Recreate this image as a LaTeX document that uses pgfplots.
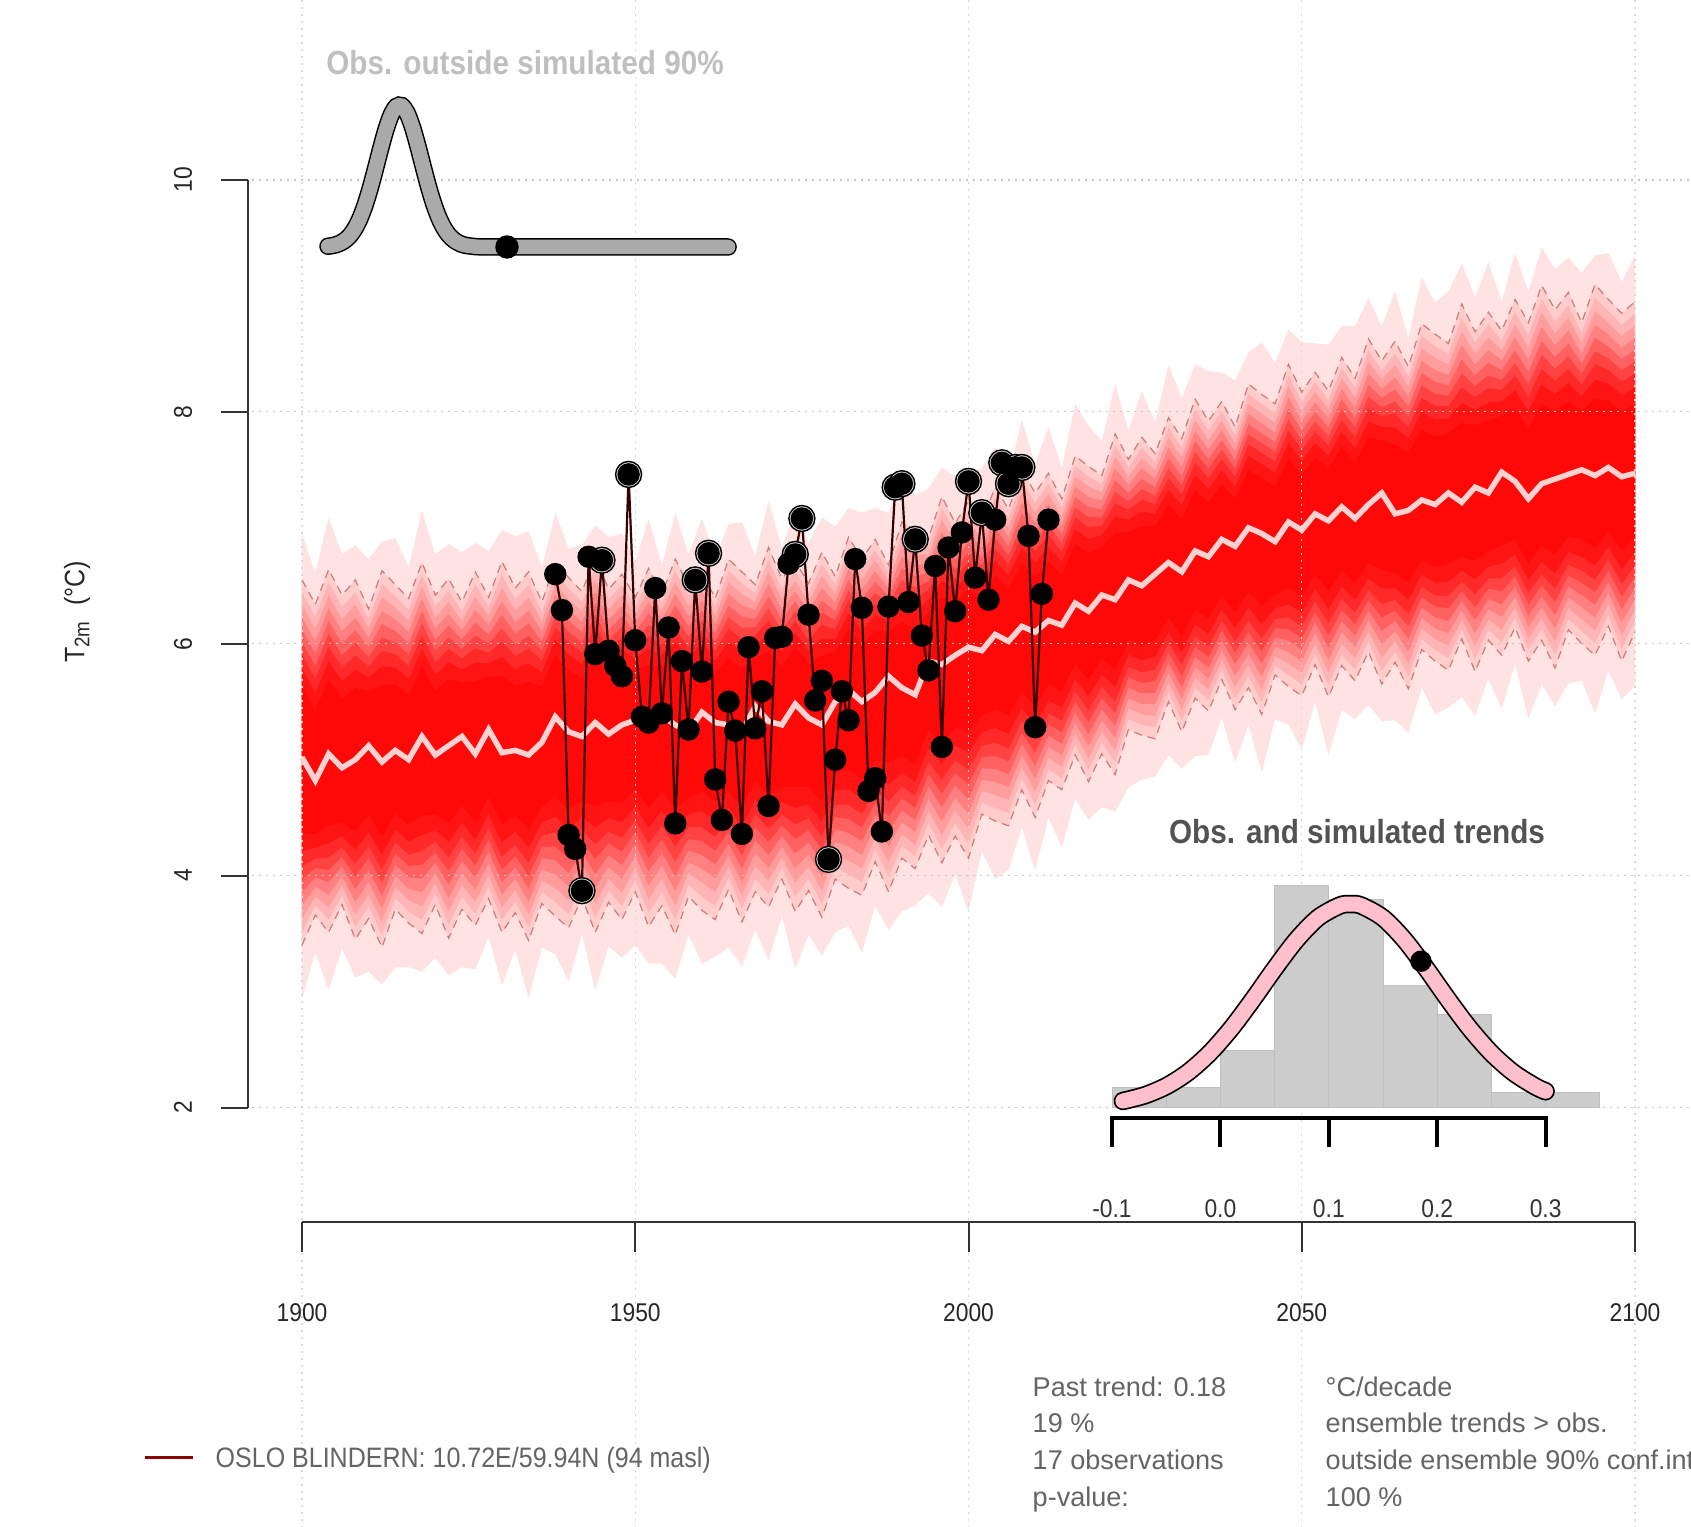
\documentclass[border=0pt]{standalone}
\usepackage{fontspec}
\setmainfont{Liberation Sans}
\newfontfamily\rfont{Liberation Sans}[FakeStretch=0.89]
\usepackage{pgfplots}
\pgfplotsset{compat=1.18}
\usepackage{pgfplotstable}
\usepgfplotslibrary{fillbetween}

\definecolor{medc}{RGB}{255,210,210}
\definecolor{obsc}{RGB}{55,0,0}
\definecolor{dashc}{RGB}{160,30,30}
\definecolor{pinkc}{RGB}{255,192,203}
\definecolor{txtc}{RGB}{100,100,100}
\definecolor{legc}{RGB}{139,0,0}

\pgfplotstableread{
year med q05 q95 mn mx
1900 5.02 3.40 6.55 2.94 6.95
1902 4.82 3.66 6.34 3.34 6.61
1904 5.05 3.51 6.64 3.01 7.09
1906 4.93 3.75 6.42 3.37 6.77
1908 5.00 3.45 6.55 3.12 6.85
1910 5.12 3.63 6.30 3.17 6.73
1912 4.98 3.38 6.63 3.06 6.88
1914 5.08 3.71 6.51 3.21 6.91
1916 5.00 3.59 6.39 3.21 6.66
1918 5.20 3.50 6.70 3.17 7.15
1920 5.04 3.75 6.42 3.29 6.77
1922 5.12 3.46 6.56 3.14 6.86
1924 5.20 3.71 6.36 3.21 6.79
1926 5.05 3.57 6.62 3.19 6.87
1928 5.26 3.80 6.40 3.47 6.80
1930 5.06 3.51 6.71 3.05 6.98
1932 5.08 3.68 6.48 3.36 6.93
1934 5.04 3.44 6.62 2.94 6.97
1936 5.15 3.76 6.36 3.38 6.66
1938 5.37 3.65 6.70 3.32 7.13
1940 5.24 3.55 6.57 3.09 6.82
1942 5.20 3.81 6.45 3.49 6.85
1944 5.32 3.51 6.75 3.01 7.02
1946 5.22 3.77 6.47 3.39 6.92
1948 5.30 3.62 6.60 3.29 6.95
1950 5.34 3.86 6.40 3.40 6.70
1952 5.26 3.56 6.65 3.24 7.08
1954 5.38 3.74 6.43 3.24 6.68
1956 5.30 3.49 6.73 3.11 7.13
1958 5.24 3.82 6.50 3.49 6.77
1960 5.41 3.70 6.63 3.24 7.08
1962 5.32 3.62 6.39 3.30 6.74
1964 5.30 3.88 6.73 3.38 7.03
1966 5.24 3.60 6.62 3.22 7.05
1968 5.46 3.86 6.51 3.53 6.76
1970 5.33 3.73 6.83 3.27 7.23
1972 5.30 3.97 6.56 3.65 6.83
1974 5.48 3.69 6.71 3.19 7.16
1976 5.36 3.87 6.52 3.49 6.87
1978 5.30 3.64 6.79 3.31 7.09
1980 5.50 3.97 6.58 3.51 7.01
1982 5.60 3.89 6.92 3.57 7.17
1984 5.50 3.83 6.73 3.33 7.13
1986 5.58 4.12 6.90 3.74 7.17
1988 5.72 3.86 6.68 3.53 7.13
1990 5.62 4.15 7.05 3.69 7.40
1992 5.56 4.06 6.98 3.74 7.28
1994 5.85 4.35 6.91 3.85 7.34
1996 5.82 4.11 7.27 3.73 7.52
1998 5.90 4.34 7.04 4.01 7.44
2000 5.97 4.15 7.23 3.69 7.50
2002 5.94 4.53 7.06 4.21 7.51
2004 6.08 4.47 7.35 3.97 7.70
2006 6.02 4.43 7.16 4.05 7.46
2008 6.15 4.74 7.50 4.41 7.93
2010 6.10 4.50 7.30 4.04 7.55
2012 6.20 4.82 7.47 4.50 7.87
2014 6.16 4.74 7.25 4.24 7.52
2016 6.35 5.04 7.62 4.66 8.07
2018 6.28 4.81 7.53 4.48 7.88
2020 6.42 5.05 7.45 4.59 7.75
2022 6.38 4.87 7.81 4.55 8.24
2024 6.55 5.26 7.59 4.76 7.84
2026 6.50 5.21 7.78 4.83 8.18
2028 6.60 5.18 7.64 4.85 7.91
2030 6.70 5.50 7.95 5.04 8.40
2032 6.62 5.24 7.77 4.92 8.12
2034 6.80 5.53 8.11 5.03 8.41
2036 6.75 5.42 7.92 5.04 8.35
2038 6.90 5.69 8.09 5.36 8.34
2040 6.84 5.43 7.87 4.97 8.27
2042 7.00 5.62 8.24 5.30 8.51
2044 6.95 5.39 8.15 4.89 8.60
2046 6.88 5.73 8.07 5.35 8.42
2048 7.05 5.63 8.41 5.30 8.71
2050 6.98 5.55 8.17 5.09 8.60
2052 7.12 5.82 8.34 5.50 8.59
2054 7.06 5.54 8.18 5.04 8.58
2056 7.18 5.81 8.47 5.43 8.74
2058 7.08 5.68 8.29 5.35 8.74
2060 7.20 5.93 8.63 5.47 8.98
2062 7.30 5.65 8.44 5.33 8.74
2064 7.12 5.84 8.61 5.34 9.04
2066 7.15 5.61 8.39 5.23 8.64
2068 7.24 5.95 8.76 5.62 9.16
2070 7.20 5.85 8.67 5.39 8.94
2072 7.30 5.77 8.59 5.45 9.04
2074 7.22 6.04 8.93 5.54 9.28
2076 7.35 5.76 8.69 5.38 8.99
2078 7.30 6.03 8.86 5.70 9.29
2080 7.48 5.90 8.70 5.44 8.95
2082 7.40 6.14 8.97 5.82 9.37
2084 7.25 5.85 8.77 5.35 9.04
2086 7.38 6.03 9.09 5.65 9.42
2088 7.42 5.79 8.88 5.46 9.23
2090 7.46 6.12 9.03 5.66 9.33
2092 7.50 6.00 8.77 5.68 9.20
2094 7.45 5.90 9.10 5.40 9.35
2096 7.52 6.15 8.97 5.77 9.37
2098 7.44 5.85 8.85 5.52 9.12
2100 7.47 6.10 8.95 5.64 9.35
}\fan

\pgfplotstableread{
year t
1938 6.60
1939 6.29
1940 4.35
1941 4.23
1942 3.87
1943 6.75
1944 5.91
1945 6.72
1946 5.94
1947 5.81
1948 5.72
1949 7.46
1950 6.03
1951 5.37
1952 5.32
1953 6.48
1954 5.40
1955 6.14
1956 4.45
1957 5.85
1958 5.26
1959 6.55
1960 5.76
1961 6.78
1962 4.83
1963 4.48
1964 5.50
1965 5.25
1966 4.36
1967 5.97
1968 5.27
1969 5.59
1970 4.60
1971 6.05
1972 6.06
1973 6.69
1974 6.77
1975 7.08
1976 6.25
1977 5.51
1978 5.68
1979 4.14
1980 5.00
1981 5.59
1982 5.34
1983 6.73
1984 6.31
1985 4.73
1986 4.84
1987 4.38
1988 6.32
1989 7.35
1990 7.38
1991 6.36
1992 6.90
1993 6.07
1994 5.77
1995 6.67
1996 5.11
1997 6.83
1998 6.28
1999 6.96
2000 7.40
2001 6.57
2002 7.13
2003 6.38
2004 7.07
2005 7.56
2006 7.38
2007 7.52
2008 7.52
2009 6.93
2010 5.28
2011 6.43
2012 7.07
}\obs

\pgfplotstableread{
year t
1942 3.87
1945 6.72
1949 7.46
1959 6.55
1961 6.78
1974 6.77
1975 7.08
1979 4.14
1989 7.35
1990 7.38
1992 6.90
2000 7.40
2002 7.13
2005 7.56
2006 7.38
2007 7.52
2008 7.52
}\obsout

\pgfplotstableread{
n dens
0 0.0010
0.5 0.0021
1 0.0042
1.5 0.0079
2 0.0139
2.5 0.0234
3 0.0370
3.5 0.0553
4 0.0781
4.5 0.1043
5 0.1316
5.5 0.1569
6 0.1767
6.5 0.1881
7 0.1891
7.5 0.1797
8 0.1614
8.5 0.1369
9 0.1098
9.5 0.0831
10 0.0595
10.5 0.0402
11 0.0257
11.5 0.0155
12 0.0089
12.5 0.0048
13 0.0024
14 0.0005
15 0.0001
16 0
18 0
22 0
26 0
30 0
34 0
38 0
}\outdens

\pgfplotstableread{
tr dens
-0.09 0.159
-0.07 0.297
-0.05 0.522
-0.03 0.860
-0.01 1.332
0.01 1.938
0.03 2.649
0.05 3.401
0.07 4.103
0.09 4.648
0.11 4.948
0.12 4.987
0.13 4.948
0.15 4.648
0.17 4.103
0.19 3.401
0.21 2.649
0.23 1.938
0.25 1.332
0.27 0.860
0.29 0.522
0.30 0.397
}\trdens

\newcommand{\band}[3]{%
\addplot[name path=U#1,draw=none,forget plot] table[x=year,y expr=\thisrow{med}+#2*(\thisrow{q95}-\thisrow{med})]{\fan};
\addplot[name path=L#1,draw=none,forget plot] table[x=year,y expr=\thisrow{med}-#2*(\thisrow{med}-\thisrow{q05})]{\fan};
\addplot[fill=red!#3,draw=none,forget plot] fill between[of=U#1 and L#1];}

\begin{document}
\begin{tikzpicture}
% grid
\begin{scope}[x=0.1mm,y=-0.1mm,yshift=152.7mm]
\foreach \X in {302,635.25,968.5,1301.75,1635}{\draw[gray!30,line width=0.12mm,dash pattern=on 0.2mm off 0.5mm] (\X,0)--(\X,1527);}
\foreach \Y in {1107.5,875.6,643.7,411.8,180}{\draw[gray!45,line width=0.12mm,dash pattern=on 0.2mm off 0.5mm] (252,\Y)--(1691,\Y);}
\end{scope}

% main axis
\begin{axis}[at={(0,0)},anchor=south west,scale only axis,width=169.1mm,height=152.7mm,
  xmin=1854.69,xmax=2108.40,ymin=-1.618,ymax=11.552,hide axis,clip=false]
\addplot[name path=mx,draw=none,forget plot] table[x=year,y=mx]{\fan};
\addplot[name path=mn,draw=none,forget plot] table[x=year,y=mn]{\fan};
\addplot[fill=red!11,draw=none,forget plot] fill between[of=mx and mn];
\band{a}{1.00}{20}
\band{b}{0.93}{29}
\band{c}{0.86}{39}
\band{d}{0.79}{50}
\band{e}{0.72}{62}
\band{f}{0.65}{74}
\band{g}{0.58}{84}
\band{h}{0.50}{92}
\band{i}{0.40}{97}
% 5-95 dashed
\addplot[dashc,opacity=0.5,line width=0.12mm,dash pattern=on 0.8mm off 0.6mm] table[x=year,y=q95]{\fan};
\addplot[dashc,opacity=0.5,line width=0.12mm,dash pattern=on 0.8mm off 0.6mm] table[x=year,y=q05]{\fan};
% median
\addplot[medc,line width=0.55mm] table[x=year,y=med]{\fan};
% observations
\addplot[obsc,line width=0.22mm] table[x=year,y=t]{\obs};
\addplot[only marks,mark=*,mark size=1.3mm,mark options={fill=gray!35,draw=none}] table[x=year,y=t]{\obsout};
\addplot[only marks,mark=*,mark size=1.05mm,mark options={fill=black,draw=none}] table[x=year,y=t]{\obs};
\end{axis}

% inset: obs outside simulated 90%
\begin{axis}[at={(32.8mm,128.0mm)},anchor=south west,scale only axis,width=40.01mm,height=14.2mm,
  xmin=0,xmax=38,ymin=0,ymax=0.19,hide axis,clip=false]
\addplot[black,line width=1.75mm,line cap=round,smooth] table[x=n,y=dens]{\outdens};
\addplot[gray!67,line width=1.45mm,line cap=round,smooth] table[x=n,y=dens]{\outdens};
\addplot[only marks,mark=*,mark size=1.1mm,mark options={fill=black,draw=none}] coordinates {(17,0)};
\end{axis}

% inset: trends histogram
\begin{axis}[at={(111.2mm,41.95mm)},anchor=south west,scale only axis,width=48.78mm,height=20.4mm,
  xmin=-0.1,xmax=0.35,ymin=0,ymax=5,hide axis,clip=false]
\addplot[ybar interval,fill=gray!40,draw=gray!50,line width=0.1mm] coordinates
  {(-0.1,0.50) (-0.05,0.50) (0,1.385) (0.05,5.45) (0.1,5.09) (0.15,2.98) (0.2,2.29) (0.25,0.36) (0.3,0.36) (0.35,0.36)};
\addplot[black,line width=1.85mm,line cap=round,smooth] table[x=tr,y=dens]{\trdens};
\addplot[pinkc,line width=1.5mm,line cap=round,smooth] table[x=tr,y=dens]{\trdens};
\addplot[only marks,mark=*,mark size=1.0mm,mark options={fill=black,draw=none}] coordinates {(0.185,3.585)};
\end{axis}

% axes, labels and texts in pixel coordinates
\begin{scope}[x=0.1mm,y=-0.1mm,yshift=152.7mm]
% y axis
\draw[black!80,line width=0.2mm] (248,180)--(248,1107.5);
\foreach \Y/\L in {1107.5/2,875.6/4,643.7/6,411.8/8,180/10}{
  \draw[black!80,line width=0.2mm] (221,\Y)--(248,\Y);
  \node[rotate=90,font=\rfont\fontsize{7.3pt}{8pt}\selectfont,text=black!85,inner sep=0pt] at (183,\Y) {\L};}
% x axis
\draw[black!80,line width=0.2mm] (302,1222)--(1635,1222);
\foreach \X/\L in {302/1900,635.25/1950,968.5/2000,1301.75/2050,1635/2100}{
  \draw[black!80,line width=0.2mm] (\X,1222)--(\X,1252);
  \node[anchor=base,font=\rfont\fontsize{7.3pt}{8pt}\selectfont,text=black!85,inner sep=0pt] at (\X,1321) {\L};}
% y label
\node[rotate=90,font=\rfont\fontsize{8pt}{9pt}\selectfont,text=black!85,inner sep=0pt] at (77,612) {T\textsubscript{2m}\ \ (°C)};
% trend axis
\draw[black,line width=0.4mm] (1112,1147)--(1112,1118)--(1545.6,1118)--(1545.6,1147);
\foreach \X/\L in {1112/-0.1,1220.4/0.0,1328.8/0.1,1437.2/0.2,1545.6/0.3}{
  \draw[black,line width=0.4mm] (\X,1118)--(\X,1147);
  \node[anchor=base,font=\rfont\fontsize{7.3pt}{8pt}\selectfont,text=black!80,inner sep=0pt] at (\X,1217) {\L};}
% titles
\node[anchor=base,font=\rfont\bfseries\fontsize{9.5pt}{11pt}\selectfont,text=gray!50,inner sep=0pt] at (525,75) {Obs. outside simulated 90\%};
\node[anchor=base,font=\rfont\bfseries\fontsize{9.5pt}{11pt}\selectfont,text=black!68,inner sep=0pt] at (1357,844) {Obs. and simulated trends};
% legend
\draw[legc,line width=0.3mm] (145,1457)--(193,1457);
\node[anchor=base west,font=\rfont\fontsize{8pt}{9pt}\selectfont,text=txtc,inner sep=0pt] at (215,1467) {OSLO BLINDERN: 10.72E/59.94N (94 masl)};
% text block
\foreach \Y/\A/\B in {1396/{Past trend: 0.18}/{°C/decade},1432.7/{19 \%}/{ensemble trends > obs.},1469.4/{17 observations}/{outside ensemble 90\% conf.int.},1506/{p-value:}/{100 \%}}{
  \node[anchor=base west,font=\fontsize{7.7pt}{9pt}\selectfont,text=txtc,inner sep=0pt] at (1032,\Y) {\A};
  \node[anchor=base west,font=\fontsize{7.7pt}{9pt}\selectfont,text=txtc,inner sep=0pt] at (1325,\Y) {\B};}
\end{scope}
\pgfresetboundingbox
\path[use as bounding box] (0,0) rectangle (169.1mm,152.7mm);
\end{tikzpicture}
\end{document}
